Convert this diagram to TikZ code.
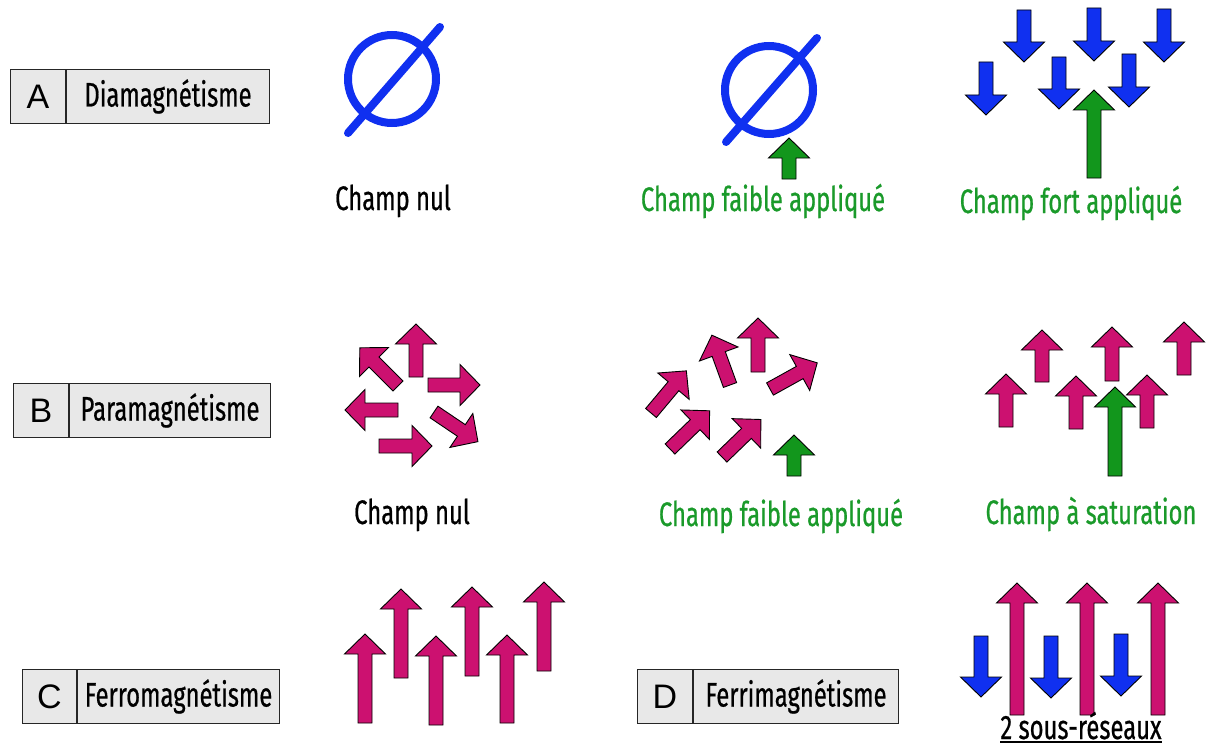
\documentclass[tikz,border=0pt]{standalone}
\usepackage{fontspec}
\setmainfont[FakeStretch=0.70,FakeBold=0.6]{Fira Sans}
\newfontfamily\letterfont{Liberation Sans}
\definecolor{spinblue}{RGB}{16,48,240}
\definecolor{spinmag}{RGB}{204,17,112}
\definecolor{fieldgreen}{RGB}{18,150,28}
\definecolor{textgreen}{RGB}{26,154,42}
\definecolor{cellgray}{RGB}{232,232,232}

% block arrow: tail x, tail y, angle, length, colour
\newcommand{\spinarrow}[5]{%
  \draw[black,line width=0.9pt,fill=#5,shift={(#1,#2)},rotate=#3]
    (0,-7) -- ({#4-20},-7) -- ({#4-20},-20.5) -- (#4,0)
    -- ({#4-20},20.5) -- ({#4-20},7) -- (0,7) -- cycle;}

\begin{document}
\begin{tikzpicture}[x=1pt,y=-1pt]
  \tikzstyle{cell}=[draw=black!85,fill=cellgray,line width=1pt,minimum height=54pt,inner sep=0pt,anchor=north west]
  \tikzstyle{lettercell}=[cell,minimum width=55pt,font=\letterfont\fontsize{34}{34}\selectfont]
  \tikzstyle{typecell}=[cell,font=\fontsize{34}{34}\selectfont]
  \tikzstyle{fieldtext}=[anchor=base,inner sep=0pt,font=\fontsize{34}{34}\selectfont]
  \tikzstyle{nullsign}=[spinblue,line width=8pt,line cap=round]
  \useasboundingbox (0,0) rectangle (1206,749);

  % A : diamagnetisme
  \node[lettercell] (A_let) at (10,69) {A};
  \node[typecell,minimum width=203pt] (A_typ) at (A_let.north east) {Diamagnétisme};
  \draw[nullsign] (392,79) circle (44);
  \draw[nullsign] (348,133) -- (440,27);
  \node[fieldtext] (A_nul) at (393,210) {Champ nul};
  \draw[nullsign] (769,90) circle (44);
  \draw[nullsign] (726,142) -- (817,38);
  \spinarrow{789}{179}{90}{41}{fieldgreen}
  \node[fieldtext,textgreen] (A_faible) at (763,211) {Champ faible appliqué};
  \spinarrow{986}{62}{-90}{53}{spinblue}
  \spinarrow{1024}{10}{-90}{52}{spinblue}
  \spinarrow{1059}{57}{-90}{52}{spinblue}
  \spinarrow{1094}{8}{-90}{53}{spinblue}
  \spinarrow{1129}{54}{-90}{53}{spinblue}
  \spinarrow{1164}{9}{-90}{53}{spinblue}
  \spinarrow{1094}{178}{90}{88}{fieldgreen}
  \node[fieldtext,textgreen] (A_fort) at (1071,213) {Champ fort appliqué};

  % B : paramagnetisme
  \node[lettercell] (B_let) at (13,383) {B};
  \node[typecell,minimum width=201pt] (B_typ) at (B_let.north east) {Paramagnétisme};
  \spinarrow{416}{377}{90}{53}{spinmag}
  \spinarrow{428}{385}{0}{52}{spinmag}
  \spinarrow{398}{386}{135}{54}{spinmag}
  \spinarrow{398}{410}{180}{53}{spinmag}
  \spinarrow{379}{446}{0}{53}{spinmag}
  \spinarrow{434}{412}{-34}{53}{spinmag}
  \node[fieldtext] (B_nul) at (412,524) {Champ nul};
  \spinarrow{651}{413}{50}{55}{spinmag}
  \spinarrow{670}{449}{44}{55}{spinmag}
  \spinarrow{722}{457}{44}{54}{spinmag}
  \spinarrow{730}{385}{110}{53}{spinmag}
  \spinarrow{758}{372}{90}{54}{spinmag}
  \spinarrow{770}{389}{29}{54}{spinmag}
  \spinarrow{794}{476}{90}{41}{fieldgreen}
  \node[fieldtext,textgreen] (B_faible) at (781,526) {Champ faible appliqué};
  \spinarrow{1006}{427}{90}{53}{spinmag}
  \spinarrow{1042}{382}{90}{52}{spinmag}
  \spinarrow{1076}{429}{90}{53}{spinmag}
  \spinarrow{1112}{381}{90}{54}{spinmag}
  \spinarrow{1147}{428}{90}{53}{spinmag}
  \spinarrow{1184}{375}{90}{53}{spinmag}
  \spinarrow{1115}{476}{90}{89}{fieldgreen}
  \node[fieldtext,textgreen] (B_sat) at (1091,524) {Champ à saturation};

  % C : ferromagnetisme
  \node[lettercell,minimum width=54pt] (C_let) at (22,669) {C};
  \node[typecell,minimum width=202pt] (C_typ) at (C_let.north east) {Ferromagnétisme};
  \spinarrow{365}{723}{90}{89}{spinmag}
  \spinarrow{401}{678}{90}{89}{spinmag}
  \spinarrow{436}{725}{90}{89}{spinmag}
  \spinarrow{472}{676}{90}{89}{spinmag}
  \spinarrow{507}{723}{90}{88}{spinmag}
  \spinarrow{544}{671}{90}{89}{spinmag}

  % D : ferrimagnetisme
  \node[lettercell] (D_let) at (637,669) {D};
  \node[typecell,minimum width=205pt] (D_typ) at (D_let.north east) {Ferrimagnétisme};
  \spinarrow{981}{636}{-90}{61}{spinblue}
  \spinarrow{1051}{636}{-90}{62}{spinblue}
  \spinarrow{1121}{634}{-90}{62}{spinblue}
  \spinarrow{1017}{715}{90}{132}{spinmag}
  \spinarrow{1087}{715}{90}{132}{spinmag}
  \spinarrow{1158}{715}{90}{132}{spinmag}
  \node[fieldtext] (D_sub) at (1081,739) {2 sous-réseaux};
  \draw[line width=1.5pt] ([yshift=-3pt]D_sub.base west) -- ([yshift=-3pt]D_sub.base east);
\end{tikzpicture}
\end{document}
